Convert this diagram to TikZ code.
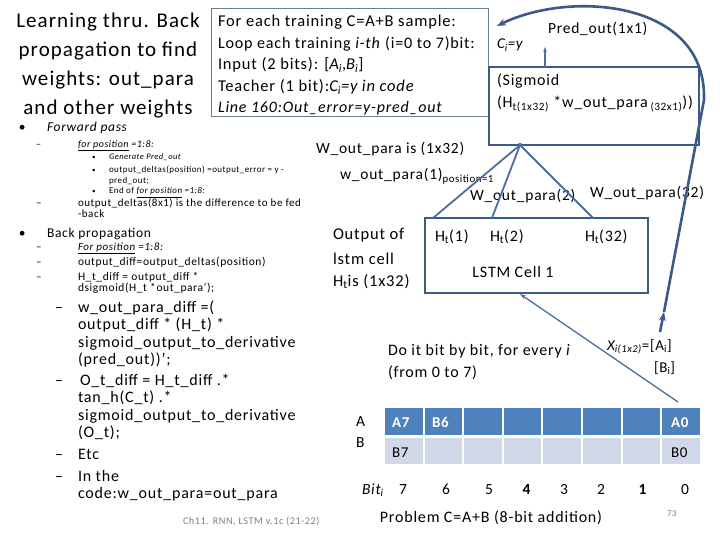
\documentclass[tikz,border=0pt]{standalone}
\usepackage{fontspec}
\setmainfont{Carlito}[LetterSpace=5]
\usetikzlibrary{arrows.meta}
\definecolor{boxblue}{RGB}{60,90,135}
\definecolor{lineblue}{RGB}{74,110,160}
\definecolor{celltop}{RGB}{79,129,189}
\definecolor{cellbot}{RGB}{208,216,232}
\definecolor{framegray}{RGB}{105,125,145}
\definecolor{foot}{RGB}{128,128,128}
\newcommand{\fs}[2]{\fontsize{#1}{#2}\selectfont}
\begin{document}
\begin{tikzpicture}[x=1pt,y=-1pt,
  txt/.style={anchor=base west,inner sep=0pt,outer sep=0pt},
  ctxt/.style={anchor=base,inner sep=0pt,outer sep=0pt},
  cellA/.style={fill=celltop,draw=none},
  cellB/.style={fill=cellbot,draw=none},
  wline/.style={draw=lineblue,line width=1.8pt},
  thinarrow/.style={draw=lineblue,line width=1.3pt,-{Stealth[length=6pt,width=4pt]}},
  bigarrow/.style={draw=boxblue,line width=2.6pt,-{Stealth[length=9pt,width=7pt]}}]
\useasboundingbox (0,0) rectangle (720,540);
\fill[white] (0,0) rectangle (720,540);

% ---------- title ----------
\node[ctxt] (t1) at (108,28) {\fs{21}{29}Learning thru. Back};
\node[ctxt] (t2) at (108,57) {\fs{21}{29}propagation to find};
\node[ctxt] (t3) at (108,86) {\fs{21}{29}weights: out\_para};
\node[ctxt] (t4) at (108,115) {\fs{21}{29}and other weights};

% ---------- left bullet list ----------
\node[txt] (b1) at (19,132) {\fs{13.5}{16}•};
\node[txt] (fp) at (47,132) {\fs{13.5}{16}\textit{Forward pass}};
\node[txt] (d1) at (36,147.5) {\fs{10}{12}–};
\node[txt] (fpos) at (78,147.5) {\fs{10}{12}\textit{\underline{for position} =1:8:}};
\node[txt] (s1) at (92,160) {\fs{7}{9}•};
\node[txt] (gen) at (109,160) {\fs{8.5}{10}\textit{Generate Pred\_out}};
\node[txt] (s2) at (92,173) {\fs{7}{9}•};
\node[txt] (od1) at (109,173) {\fs{9}{10}output\_deltas(position) =output\_error = y -};
\node[txt] (od2) at (109,183.5) {\fs{9}{10}pred\_out;};
\node[txt] (s3) at (92,194) {\fs{7}{9}•};
\node[txt] (eof) at (109,194) {\fs{9}{10}End of \textit{\underline{for position} =1:8:}};
\node[txt] (d2) at (36,207) {\fs{11}{12}–};
\node[txt] (odl1) at (78,207) {\fs{11}{12}output\_deltas(8x1) is the difference to be fed};
\node[txt] (odl2) at (78,218) {\fs{11}{12}-back};
\node[txt] (b2) at (19,237) {\fs{13.5}{16}•};
\node[txt] (bp) at (47,237) {\fs{13.5}{16}Back propagation};
\node[txt] (d3) at (36,250) {\fs{11}{12}–};
\node[txt] (bpos) at (78,250) {\fs{11}{12}\textit{\underline{For position} =1:8:}};
\node[txt] (d4) at (36,265.5) {\fs{11}{12}–};
\node[txt] (odf) at (78,265.5) {\fs{11.5}{12}output\_diff=output\_deltas(position)};
\node[txt] (d5) at (36,280.5) {\fs{11}{12}–};
\node[txt] (htd1) at (78,280.5) {\fs{11.5}{12}H\_t\_diff = output\_diff *};
\node[txt] (htd2) at (78,291.5) {\fs{11.5}{12}dsigmoid(H\_t *out\_para');};

\node[txt] (d6) at (55,312) {\fs{16}{18}–};
\node[txt] (w1) at (78,312) {\fs{16}{18}w\_out\_para\_diff =(};
\node[txt] (w2) at (78,329.5) {\fs{16}{18}output\_diff * (H\_t) *};
\node[txt] (w3) at (78,347) {\fs{16}{18}sigmoid\_output\_to\_derivative};
\node[txt] (w4) at (78,364.5) {\fs{16}{18}(pred\_out))';};
\node[txt] (d7) at (55,385) {\fs{16}{18}–};
\node[txt] (o1) at (80,385) {\fs{16}{18}O\_t\_diff = H\_t\_diff .*};
\node[txt] (o2) at (78,402.5) {\fs{16}{18}tan\_h(C\_t) .*};
\node[txt] (o3) at (78,420) {\fs{16}{18}sigmoid\_output\_to\_derivative};
\node[txt] (o4) at (78,437.5) {\fs{16}{18}(O\_t);};
\node[txt] (d8) at (55,459) {\fs{16}{18}–};
\node[txt] (etc) at (78,459) {\fs{16}{18}Etc};
\node[txt] (d9) at (55,481) {\fs{16}{18}–};
\node[txt] (in1) at (78,481) {\fs{16}{18}In the};
\node[txt] (in2) at (78,498.5) {\fs{16}{18}code:w\_out\_para=out\_para};
\node[txt,text=foot] (footer) at (183,524) {\fs{10.3}{11}Ch11. RNN, LSTM v.1c (21-22)};

% ---------- top description box ----------
\draw[framegray,line width=0.8pt] (211.5,8) rectangle (488,116.5);
\node[txt] (l1) at (218,27) {\fs{16.5}{18}For each training C=A+B sample:};
\node[txt] (l2) at (218,48.5) {\fs{16.1}{18}Loop each training \textit{i-th} (i=0 to 7)bit:};
\node[txt] (l3) at (218,70) {\fs{16.5}{18}Input (2 bits): [\textit{A\textsubscript{i}},\textit{B\textsubscript{i}}]};
\node[txt] (l4) at (218,91.5) {\fs{16.5}{18}Teacher (1 bit):\textit{C\textsubscript{i}=y in code}};
\node[txt] (l5) at (218,113) {\fs{16}{18}\textit{Line 160:Out\_error=y-pred\_out}};

% ---------- output part ----------
\node[txt] (po) at (548,34) {\fs{15.5}{18}Pred\_out(1x1)};
\node[txt] (ci) at (497,49) {\fs{15}{18}\textit{C\textsubscript{i}=y}};
\draw[boxblue,line width=2.6pt] (489,67) rectangle (699,145);
\node[txt] (sg1) at (497,86) {\fs{16}{18}(Sigmoid};
\node[txt] (sg2) at (497,108) {\fs{16}{18}(H\textsubscript{t(1x32)} *w\_out\_para\,\textsubscript{(32x1)}))};
\coordinate (sgtop) at (545,67);
\coordinate (potext) at (545,47);
\draw[draw=lineblue,line width=1.1pt,-{Stealth[length=5pt,width=3.5pt]}] (sgtop) -- (potext);

\coordinate (sgbot) at (520,145);
\fill[lineblue] (sgbot) circle (2.2pt);
\node[txt] (wis) at (316,154) {\fs{15.5}{18}W\_out\_para is (1x32)};
\node[txt] (w1p) at (340,180) {\fs{15.5}{18}w\_out\_para(1)\textsubscript{position=1}};
\node[txt] (w2p) at (470,201) {\fs{15.5}{18}W\_out\_para(2)};
\node[txt] (w32p) at (590,197) {\fs{15.5}{18}W\_out\_para(32)};

% LSTM cell
\draw[boxblue,line width=2.2pt] (425,218) rectangle (648,293);
\coordinate (h1top) at (433,218);
\coordinate (h2top) at (492,218);
\coordinate (h32top) at (593,218);
\draw[wline] (sgbot) -- (h1top);
\draw[wline] (sgbot) -- (h2top);
\draw[wline] (sgbot) -- (h32top);
\node[txt] (h1) at (435,241) {\fs{16}{18}H\textsubscript{t}(1)};
\node[txt] (h2) at (490,241) {\fs{16}{18}H\textsubscript{t}(2)};
\node[txt] (h32) at (585,241) {\fs{16}{18}H\textsubscript{t}(32)};
\node[ctxt] (lstm) at (513,277) {\fs{16}{18}LSTM Cell 1};
\node[txt] (oo1) at (333,240) {\fs{16.5}{18}Output of};
\node[txt] (oo2) at (333,264) {\fs{16.5}{18}lstm cell};
\node[txt] (oo3) at (333,286) {\fs{16.5}{18}H\textsubscript{t}is (1x32)};

% input arrow
\coordinate (lstmbot) at (520,294);
\coordinate (a0top) at (678,402);
\draw[thinarrow] (a0top) -- (lstmbot);

\node[txt] (do1) at (388,355) {\fs{16}{18}Do it bit by bit, for every \textit{i}};
\node[txt] (do2) at (388,377) {\fs{16}{18}(from 0 to 7)};
\node[txt] (xi) at (607,350) {\fs{15}{18}\textit{X\textsubscript{i(1x2)}}=[A\textsubscript{i}]};
\node[txt] (bi) at (654,372) {\fs{15}{18}[B\textsubscript{i}]};

% big feedback arrow
\coordinate (xsrc) at (660,332);
\coordinate (xmid) at (664,312);
\coordinate (rtop) at (704,100);
\coordinate (ciend) at (497,26);
\draw[bigarrow] (xsrc) -- (xmid);
\draw[bigarrow] (xmid) -- (rtop) .. controls (707,0) and (570,-10) .. (ciend);

% ---------- table ----------
\node[txt] (ra) at (356,426) {\fs{15.5}{18}A};
\node[txt] (rb) at (356,447) {\fs{15.5}{18}B};
\foreach \i in {0,...,7} {
  \path[cellA] ({385+39.6*\i},408) rectangle ({385+39.6*\i+37.6},435);
  \path[cellB] ({385+39.6*\i},438) rectangle ({385+39.6*\i+37.6},464);
}
\node[txt,text=white] (ca7) at (392,427) {\fs{15}{18}\textbf{A7}};
\node[txt,text=white] (cb6) at (432,427) {\fs{15}{18}\textbf{B6}};
\node[txt,text=white] (ca0) at (671,427) {\fs{15}{18}\textbf{A0}};
\node[txt] (cb7) at (392,457) {\fs{15}{18}B7};
\node[txt] (cb0) at (671,457) {\fs{15}{18}B0};

\node[txt] (bit) at (362,494) {\fs{15.5}{18}\textit{Bit\textsubscript{i}}};
\node[ctxt] (n7) at (403,494) {\fs{15.5}{18}7};
\node[ctxt] (n6) at (446,494) {\fs{15.5}{18}6};
\node[ctxt] (n5) at (489,494) {\fs{15.5}{18}5};
\node[ctxt] (n4) at (527,494) {\fs{15.5}{18}\textbf{4}};
\node[ctxt] (n3) at (564,494) {\fs{15.5}{18}3};
\node[ctxt] (n2) at (601,494) {\fs{15.5}{18}2};
\node[ctxt] (n1) at (643,494) {\fs{15.5}{18}\textbf{1}};
\node[ctxt] (n0) at (685,494) {\fs{15.5}{18}0};
\node[ctxt] (prob) at (491,522) {\fs{16}{18}Problem C=A+B (8-bit addition)};
\node[txt,text=foot] (pg) at (667,516) {\fs{9}{11}73};
\end{tikzpicture}
\end{document}
